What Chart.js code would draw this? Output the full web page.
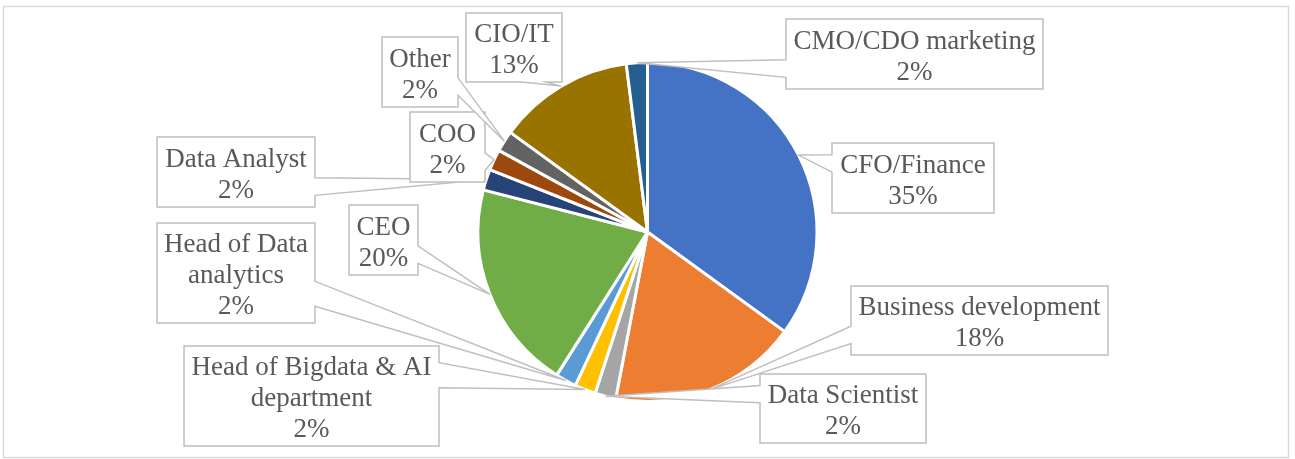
<!DOCTYPE html>
<html>
<head>
<meta charset="utf-8">
<script src="https://cdn.jsdelivr.net/npm/chart.js@4.4.0/dist/chart.umd.min.js"></script>
<style>
  html, body { margin: 0; padding: 0; background: #fff; overflow: hidden; }
  #wrap { position: relative; width: 1295px; height: 459px; }
</style>
</head>
<body>
<div id="wrap"><canvas id="rolesChart"></canvas></div>
<script>
// Respondents by role, share in percent
const roles = [
    'CFO/Finance', 'Business development', 'Data Scientist',
    'Head of Bigdata & AI department', 'Head of Data analytics', 'CEO',
    'Data Analyst', 'COO', 'Other', 'CIO/IT', 'CMO/CDO marketing'
];
const shares = [35, 18, 2, 2, 2, 20, 2, 2, 2, 13, 2];
const sliceColors = [
    '#4472C4', '#ED7D31', '#A5A5A5', '#FFC000', '#5B9BD5', '#70AD47',
    '#264478', '#9E480E', '#636363', '#997300', '#255E91'
];

// Where each data-label callout box sits (px), same order as roles
const calloutBoxes = [
    { x: 832, y: 143, w: 162, h: 70 },
    { x: 851, y: 286, w: 257, h: 69 },
    { x: 760, y: 374, w: 166, h: 69 },
    { x: 184, y: 346, w: 255, h: 100 },
    { x: 157, y: 223, w: 158, h: 100 },
    { x: 349, y: 205, w: 69, h: 70 },
    { x: 157, y: 137, w: 158, h: 70 },
    { x: 410, y: 112, w: 75, h: 70 },
    { x: 382, y: 37, w: 76, h: 70 },
    { x: 466, y: 13, w: 96, h: 69 },
    { x: 786, y: 19, w: 257, h: 70 }
];

const LABEL_FONT = '27px "Liberation Serif", "Times New Roman", serif';
const LINE_HEIGHT = 31;
const TEXT_SHIFT = 3;

function wrapText(ctx, text, maxWidth) {
    const words = text.split(' ');
    const lines = [];
    let cur = '';
    words.forEach(w => {
        const test = cur ? cur + ' ' + w : w;
        if (cur && ctx.measureText(test).width > maxWidth) {
            lines.push(cur);
            cur = w;
        } else {
            cur = test;
        }
    });
    if (cur) lines.push(cur);
    return lines;
}

// Rectangle with a wedge pointing at (tx, ty), like an Office callout
function calloutPath(ctx, box, tx, ty) {
    const { x, y, w, h } = box;
    const dx = (tx - (x + w / 2)) / w;
    const dy = (ty - (y + h / 2)) / h;
    const horiz = Math.abs(dx) >= Math.abs(dy);
    const side = horiz ? (dx > 0 ? 'right' : 'left') : (dy > 0 ? 'bottom' : 'top');
    // base of the wedge along the chosen side
    const fx = dx < 0 ? [2 / 12, 5 / 12] : [7 / 12, 10 / 12];
    const fy = dy < 0 ? [2 / 12, 5 / 12] : [7 / 12, 10 / 12];

    ctx.beginPath();
    ctx.moveTo(x, y);
    if (side === 'top') {
        ctx.lineTo(x + w * fx[0], y);
        ctx.lineTo(tx, ty);
        ctx.lineTo(x + w * fx[1], y);
    }
    ctx.lineTo(x + w, y);
    if (side === 'right') {
        ctx.lineTo(x + w, y + h * fy[0]);
        ctx.lineTo(tx, ty);
        ctx.lineTo(x + w, y + h * fy[1]);
    }
    ctx.lineTo(x + w, y + h);
    if (side === 'bottom') {
        ctx.lineTo(x + w * fx[1], y + h);
        ctx.lineTo(tx, ty);
        ctx.lineTo(x + w * fx[0], y + h);
    }
    ctx.lineTo(x, y + h);
    if (side === 'left') {
        ctx.lineTo(x, y + h * fy[1]);
        ctx.lineTo(tx, ty);
        ctx.lineTo(x, y + h * fy[0]);
    }
    ctx.closePath();
}

// Light grey frame around the whole chart
const framePlugin = {
    id: 'frame',
    beforeDraw(chart) {
        const ctx = chart.ctx;
        ctx.save();
        ctx.fillStyle = '#ffffff';
        ctx.fillRect(0, 0, chart.width, chart.height);
        ctx.strokeStyle = '#D9D9D9';
        ctx.lineWidth = 1.5;
        ctx.strokeRect(3.5, 6.5, 1285, 451);
        ctx.restore();
    }
};

// Data labels drawn as callouts pointing at the middle of each slice
const calloutPlugin = {
    id: 'callouts',
    afterDatasetsDraw(chart) {
        const ctx = chart.ctx;
        const meta = chart.getDatasetMeta(0);
        const values = chart.data.datasets[0].data;
        ctx.save();
        ctx.font = LABEL_FONT;
        meta.data.forEach((arc, i) => {
            const box = calloutBoxes[i];
            const mid = (arc.startAngle + arc.endAngle) / 2;
            const r = arc.outerRadius;
            const tx = arc.x + Math.cos(mid) * r;
            const ty = arc.y + Math.sin(mid) * r;

            calloutPath(ctx, box, tx, ty);
            ctx.fillStyle = '#ffffff';
            ctx.fill();
            ctx.lineWidth = 1.5;
            ctx.strokeStyle = '#BFBFBF';
            ctx.stroke();

            const lines = wrapText(ctx, chart.data.labels[i], box.w - 6);
            lines.push(values[i] + '%');
            ctx.fillStyle = '#595959';
            ctx.textAlign = 'center';
            ctx.textBaseline = 'middle';
            const top = box.y + box.h / 2 + TEXT_SHIFT - (lines.length - 1) * LINE_HEIGHT / 2;
            lines.forEach((ln, k) => {
                ctx.fillText(ln, box.x + box.w / 2, top + k * LINE_HEIGHT);
            });
        });
        ctx.restore();
    }
};

new Chart(document.getElementById('rolesChart'), {
    type: 'pie',
    data: {
        labels: roles,
        datasets: [{
            data: shares,
            backgroundColor: sliceColors,
            borderColor: '#ffffff',
            borderWidth: 3,
            radius: 169.5
        }]
    },
    options: {
        responsive: true,
        maintainAspectRatio: false,
        animation: false,
        layout: { padding: { top: 5 } },
        plugins: {
            legend: { display: false },
            tooltip: { enabled: false }
        }
    },
    plugins: [framePlugin, calloutPlugin]
});
</script>
</body>
</html>
